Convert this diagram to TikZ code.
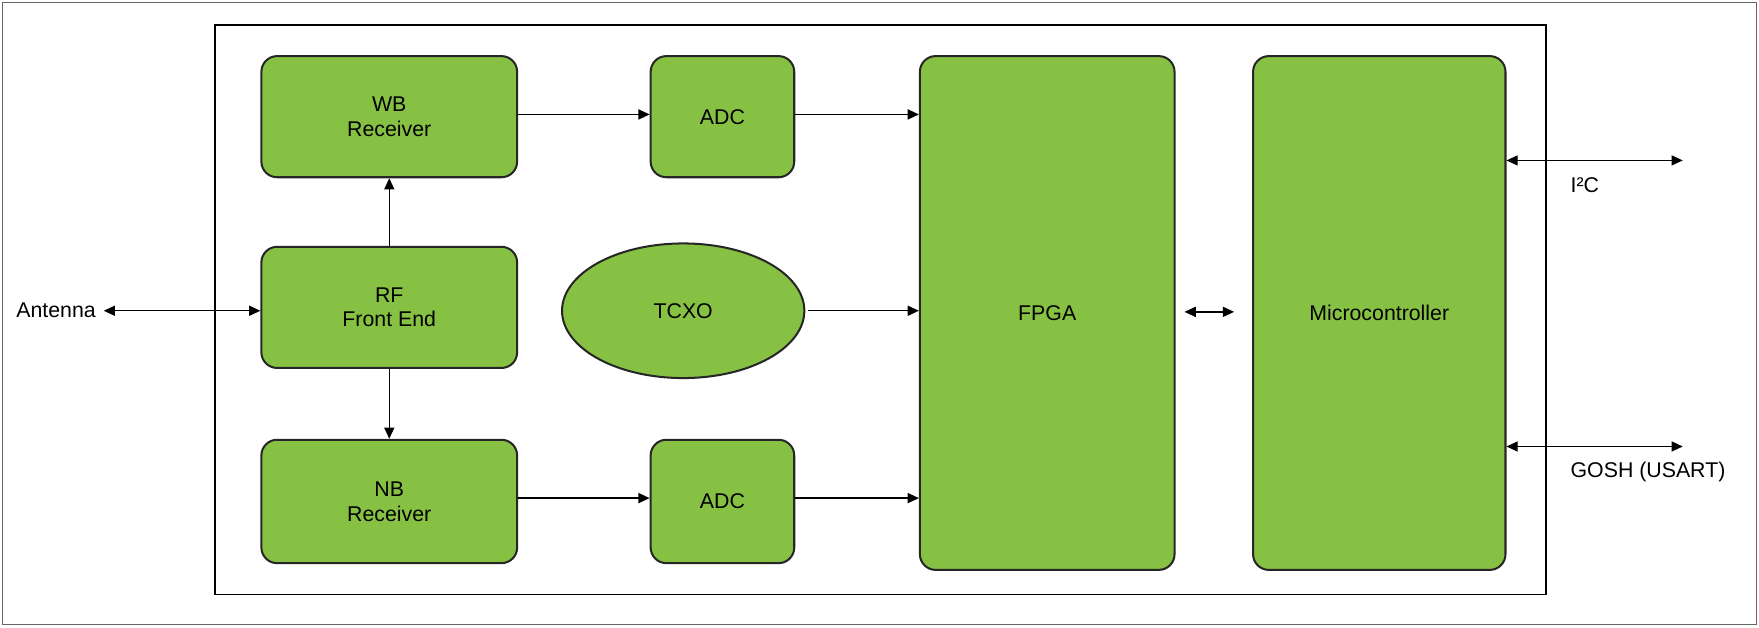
\documentclass[tikz,border=0pt]{standalone}
\usepackage{fontspec}
\setmainfont{Liberation Sans}
\usetikzlibrary{shapes.geometric,arrows.meta}
\definecolor{grn}{HTML}{86C143}
\tikzset{
 blk/.style={draw=black!85,line width=0.9pt,fill=grn,rounded corners=7pt,align=center,font=\fontsize{9.5}{11}\selectfont},
 arr/.style={-{Triangle[length=5pt,width=4.5pt]},line width=0.6pt},
 barr/.style={{Triangle[length=5pt,width=4.5pt]}-{Triangle[length=5pt,width=4.5pt]},line width=0.6pt},
 lbl/.style={font=\fontsize{9.5}{11}\selectfont}
}
\begin{document}
\begin{tikzpicture}[x=0.5pt,y=-0.5pt]
\useasboundingbox (0,0) rectangle (1568,559);
\draw[black!60,line width=0.4pt] (2,2) rectangle (1566,557);
\draw[line width=0.8pt] (192,22) rectangle (1378,530);
\node[blk,minimum width=114pt,minimum height=54pt] (wb) at (347,104) {WB\\Receiver};
\node[blk,minimum width=64pt,minimum height=54pt] (adc1) at (644,104) {ADC};
\node[blk,minimum width=114pt,minimum height=54pt] (rf) at (347,274) {RF\\Front End};
\node[blk,minimum width=114pt,minimum height=55pt] (nb) at (347,447) {NB\\Receiver};
\node[blk,minimum width=64pt,minimum height=55pt] (adc2) at (644,447) {ADC};
\node[blk,minimum width=113.5pt,minimum height=229pt] (fpga) at (933.5,279) {FPGA};
\node[blk,minimum width=112.5pt,minimum height=229pt] (mc) at (1229.5,279) {Microcontroller};
\node[draw=black!85,line width=0.9pt,fill=grn,ellipse,minimum width=108pt,minimum height=60pt,lbl] (tcxo) at (609,277) {TCXO};
\node[lbl] (ant) at (50,277) {Antenna};
\coordinate (i2c) at (1500,143);
\coordinate (gosh) at (1500,398);
\node[lbl,anchor=west] at (1393,165) {I²C};
\node[lbl,anchor=west] at (1393,421) {GOSH (USART)};
\draw[barr] (ant.east) -- (rf.west |- ant.east);
\draw[arr] (rf.north) -- (wb.south);
\draw[arr] (rf.south) -- (nb.south |- nb.north);
\draw[arr] (wb.east |- 0,102) -- (adc1.west |- 0,102);
\draw[arr] (adc1.east |- 0,102) -- (fpga.west |- 0,102);
\draw[arr] (nb.east |- 0,444) -- (adc2.west |- 0,444);
\draw[arr] (adc2.east |- 0,444) -- (fpga.west |- 0,444);
\draw[arr] (tcxo.east) ++(2,0) -- (fpga.west |- tcxo.east);
\draw[barr] (fpga.east |- 0,278) ++(8,0) -- ([xshift=-8]mc.west |- 0,278);
\draw[barr] (mc.east |- i2c) -- (i2c);
\draw[barr] (mc.east |- gosh) -- (gosh);
\end{tikzpicture}
\end{document}
